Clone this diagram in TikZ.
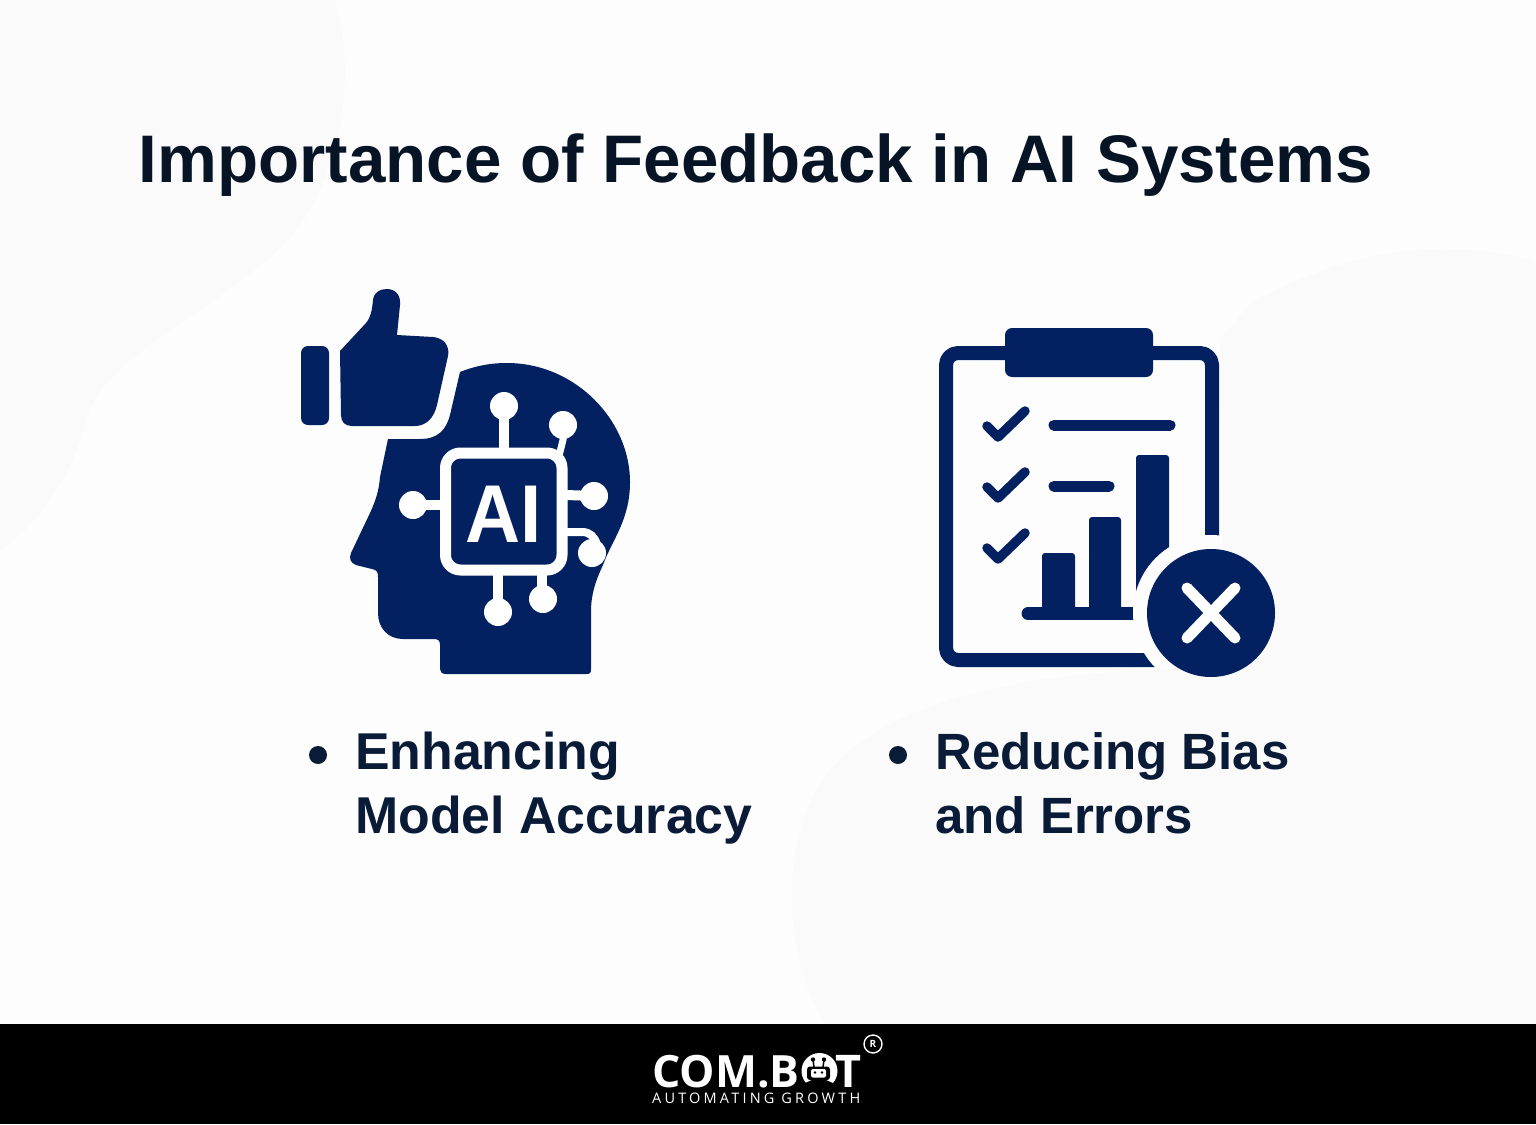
\documentclass[tikz,border=0pt]{standalone}
\usepackage{fontspec}
\setmainfont{Liberation Sans}
\newfontfamily\logofont{Open Sans}
\definecolor{navy}{RGB}{3,33,96}
\definecolor{inktext}{RGB}{10,27,56}
\definecolor{titleink}{RGB}{6,20,38}
\definecolor{bgpage}{RGB}{253,253,253}
\definecolor{bgblob}{RGB}{250,250,250}
\tikzset{
  x=1pt,y=-1pt,
  wire/.style={draw=white,line width=10pt},
  pin/.style={fill=white},
  icon/.style={fill=navy,draw=none},
  strokeicon/.style={draw=navy,line cap=round,line join=round},
  bullet/.style={circle,fill=inktext,minimum size=18pt,inner sep=0pt},
  itemtext/.style={inktext,anchor=north west,align=left,inner sep=0pt},
}
\begin{document}
\begin{tikzpicture}
\useasboundingbox (0,0) rectangle (1536,1124);
\fill[bgpage] (0,0) rectangle (1536,1124);
% background blob, upper left
\fill[bgblob] (0,0) -- (335,0) .. controls (355,70) and (345,160) .. (300,225)
  .. controls (255,290) and (110,350) .. (90,410)
  .. controls (75,470) and (40,525) .. (0,550) -- cycle;
% title
\node[titleink,inner sep=0pt,anchor=base] (title) at (756,182)
  {\fontsize{67.3}{80}\selectfont\bfseries Importance of Feedback in AI Systems};
% head
\path[icon] (460,372) .. controls (475,366) and (490,363) .. (507,363)
  .. controls (575,363) and (630,420) .. (630,482)
  .. controls (630,520) and (612,540) .. (603,565)
  .. controls (595,582) and (591,595) .. (591,612)
  -- (591,669) .. controls (591,673) and (590,674) .. (586,674)
  -- (446,674) .. controls (442,674) and (440,672) .. (440,669)
  -- (440,645) .. controls (440,640) and (438,639) .. (433,639)
  -- (403,639) .. controls (388,639) and (378,628) .. (378,613)
  -- (378,577) .. controls (378,572) and (377,570) .. (372,569)
  -- (356,565) .. controls (350,563) and (349,558) .. (351,553)
  -- (370,513) .. controls (376,500) and (379,490) .. (380,477)
  -- (388,439) -- (420,439)
  .. controls (438,439) and (446,430) .. (450,415) -- cycle;
% thumb
\path[icon] (340,351) -- (366,323) .. controls (371,317) and (372,310) .. (373,300)
  .. controls (374,292) and (380,289) .. (387,289)
  .. controls (396,289) and (401,296) .. (400,305)
  -- (397,335) -- (433,337)
  .. controls (444,338) and (450,346) .. (448,356)
  -- (437,405) .. controls (434,418) and (426,426) .. (415,426)
  -- (352,426) .. controls (345,426) and (341,422) .. (341,415) -- cycle;
\path[icon,rounded corners=7pt] (301,346) rectangle (329,425);
% chip
\draw[draw=white,line width=11pt,rounded corners=15pt] (445.5,453) rectangle (562,570);
\draw[wire] (504,406) -- (504,450);
\draw[wire,line width=7pt] (563,425) -- (563,440) -- (559,456);
\draw[wire] (413,505) -- (442,505);
\draw[wire] (566,495) -- (594,496);
\draw[wire,line width=8pt] (566,532) -- (582,532) .. controls (590,532) and (595,537) .. (597,545);
\draw[wire] (498,572) -- (498,612);
\draw[wire] (542,572) -- (542,599);
\foreach \cx/\cy in {504/406,563/425,413/505,594/496,592/553,498/612,543/599}
  \fill[pin] (\cx,\cy) circle (14);
\node[white,inner sep=0pt,anchor=base,xscale=.93] (ailabel) at (503.5,542)
  {\fontsize{82}{82}\selectfont\bfseries AI};
% clipboard
\draw[navy,line width=14pt,rounded corners=12pt,line join=round] (1212,560) -- (1212,353) -- (946,353) -- (946,660) -- (1180,660);
\fill[navy,rounded corners=7pt] (1005,328) rectangle (1153,377);
\foreach \dy in {0,61,122}
  \draw[strokeicon,line width=9.5pt] (987,{426+\dy}) -- (998,{437+\dy}) -- (1025,{411+\dy});
\draw[strokeicon,line width=11pt] (1054,425) -- (1170,425);
\draw[strokeicon,line width=11pt] (1054,486) -- (1109,486);
\fill[navy,rounded corners=3pt] (1042,612) -- (1042,553) -- (1075,553) -- (1075,612) -- cycle;
\fill[navy,rounded corners=3pt] (1089,612) -- (1089,517) -- (1121,517) -- (1121,612) -- cycle;
\fill[navy,rounded corners=3pt] (1136,612) -- (1136,455) -- (1169,455) -- (1169,612) -- cycle;
\draw[navy,line width=13pt,line cap=round] (1028,613.5) -- (1150,613.5);
\fill[bgpage] (1211,613) circle (78);
% background blob, lower right (over the halo's outer side, under the badge)
\fill[bgblob] (1536,262) .. controls (1450,235) and (1340,250) .. (1250,305)
  -- (1220,340) -- (1225,668)
  .. controls (1060,668) and (900,690) .. (830,770)
  .. controls (780,830) and (780,950) .. (825,1024) -- (1536,1024) -- cycle;
\fill[navy] (1211,613) circle (64);
\draw[white,line width=11pt,line cap=round] (1187,588) -- (1235,638);
\draw[white,line width=11pt,line cap=round] (1235,588) -- (1187,638);
% bullet items
\node[bullet] (b1) at (318,755) {};
\node[bullet] (b2) at (898,755) {};
\node[itemtext,font=\fontsize{51.8}{64}\selectfont\bfseries] (t1) at (355,732) {Enhancing\\Model Accuracy};
\node[itemtext,font=\fontsize{51}{64}\selectfont\bfseries] (t2) at (935,732.5) {Reducing Bias\\and Errors};
% footer
\fill[black] (0,1024) rectangle (1536,1124);
\node[white,inner sep=0pt,anchor=base west,text depth=0pt] (logoa) at (652,1087)
  {\logofont\fontsize{44.5}{45}\selectfont\bfseries COM.B};
\node[white,inner sep=0pt,anchor=base east,text depth=0pt] (logob) at (862,1087)
  {\logofont\fontsize{45}{45}\selectfont\bfseries T};
% robot in the O
\fill[white] (819.5,1071) circle (18);
\draw[black,line width=1.5pt] (813,1060) -- (814,1067) (824,1060) -- (823,1067);
\fill[black] (813,1059.5) circle (2.2) (824,1059.5) circle (2.2);
\fill[black,rounded corners=3pt] (807,1066.5) rectangle (830,1080);
\fill[white,rounded corners=2pt] (811,1069) rectangle (826,1077.5);
\fill[black] (815,1072.5) circle (1.4) (822,1072.5) circle (1.4);
\fill[black] (803,1084) -- (812,1080) -- (826,1080) -- (835,1084) -- (835,1090) -- (803,1090) -- cycle;
\node[white,inner sep=0pt,anchor=base west,text height=10.5pt] (logoc) at (652,1103)
  {\logofont\fontsize{14.5}{15}\selectfont\addfontfeature{LetterSpace=22}AUTOMATING GROWTH};
\node[draw=white,line width=1.4pt,circle,minimum size=18pt,inner sep=0pt,white] (reg) at (873,1044)
  {\logofont\fontsize{10}{10}\selectfont\bfseries R};
\end{tikzpicture}
\end{document}
